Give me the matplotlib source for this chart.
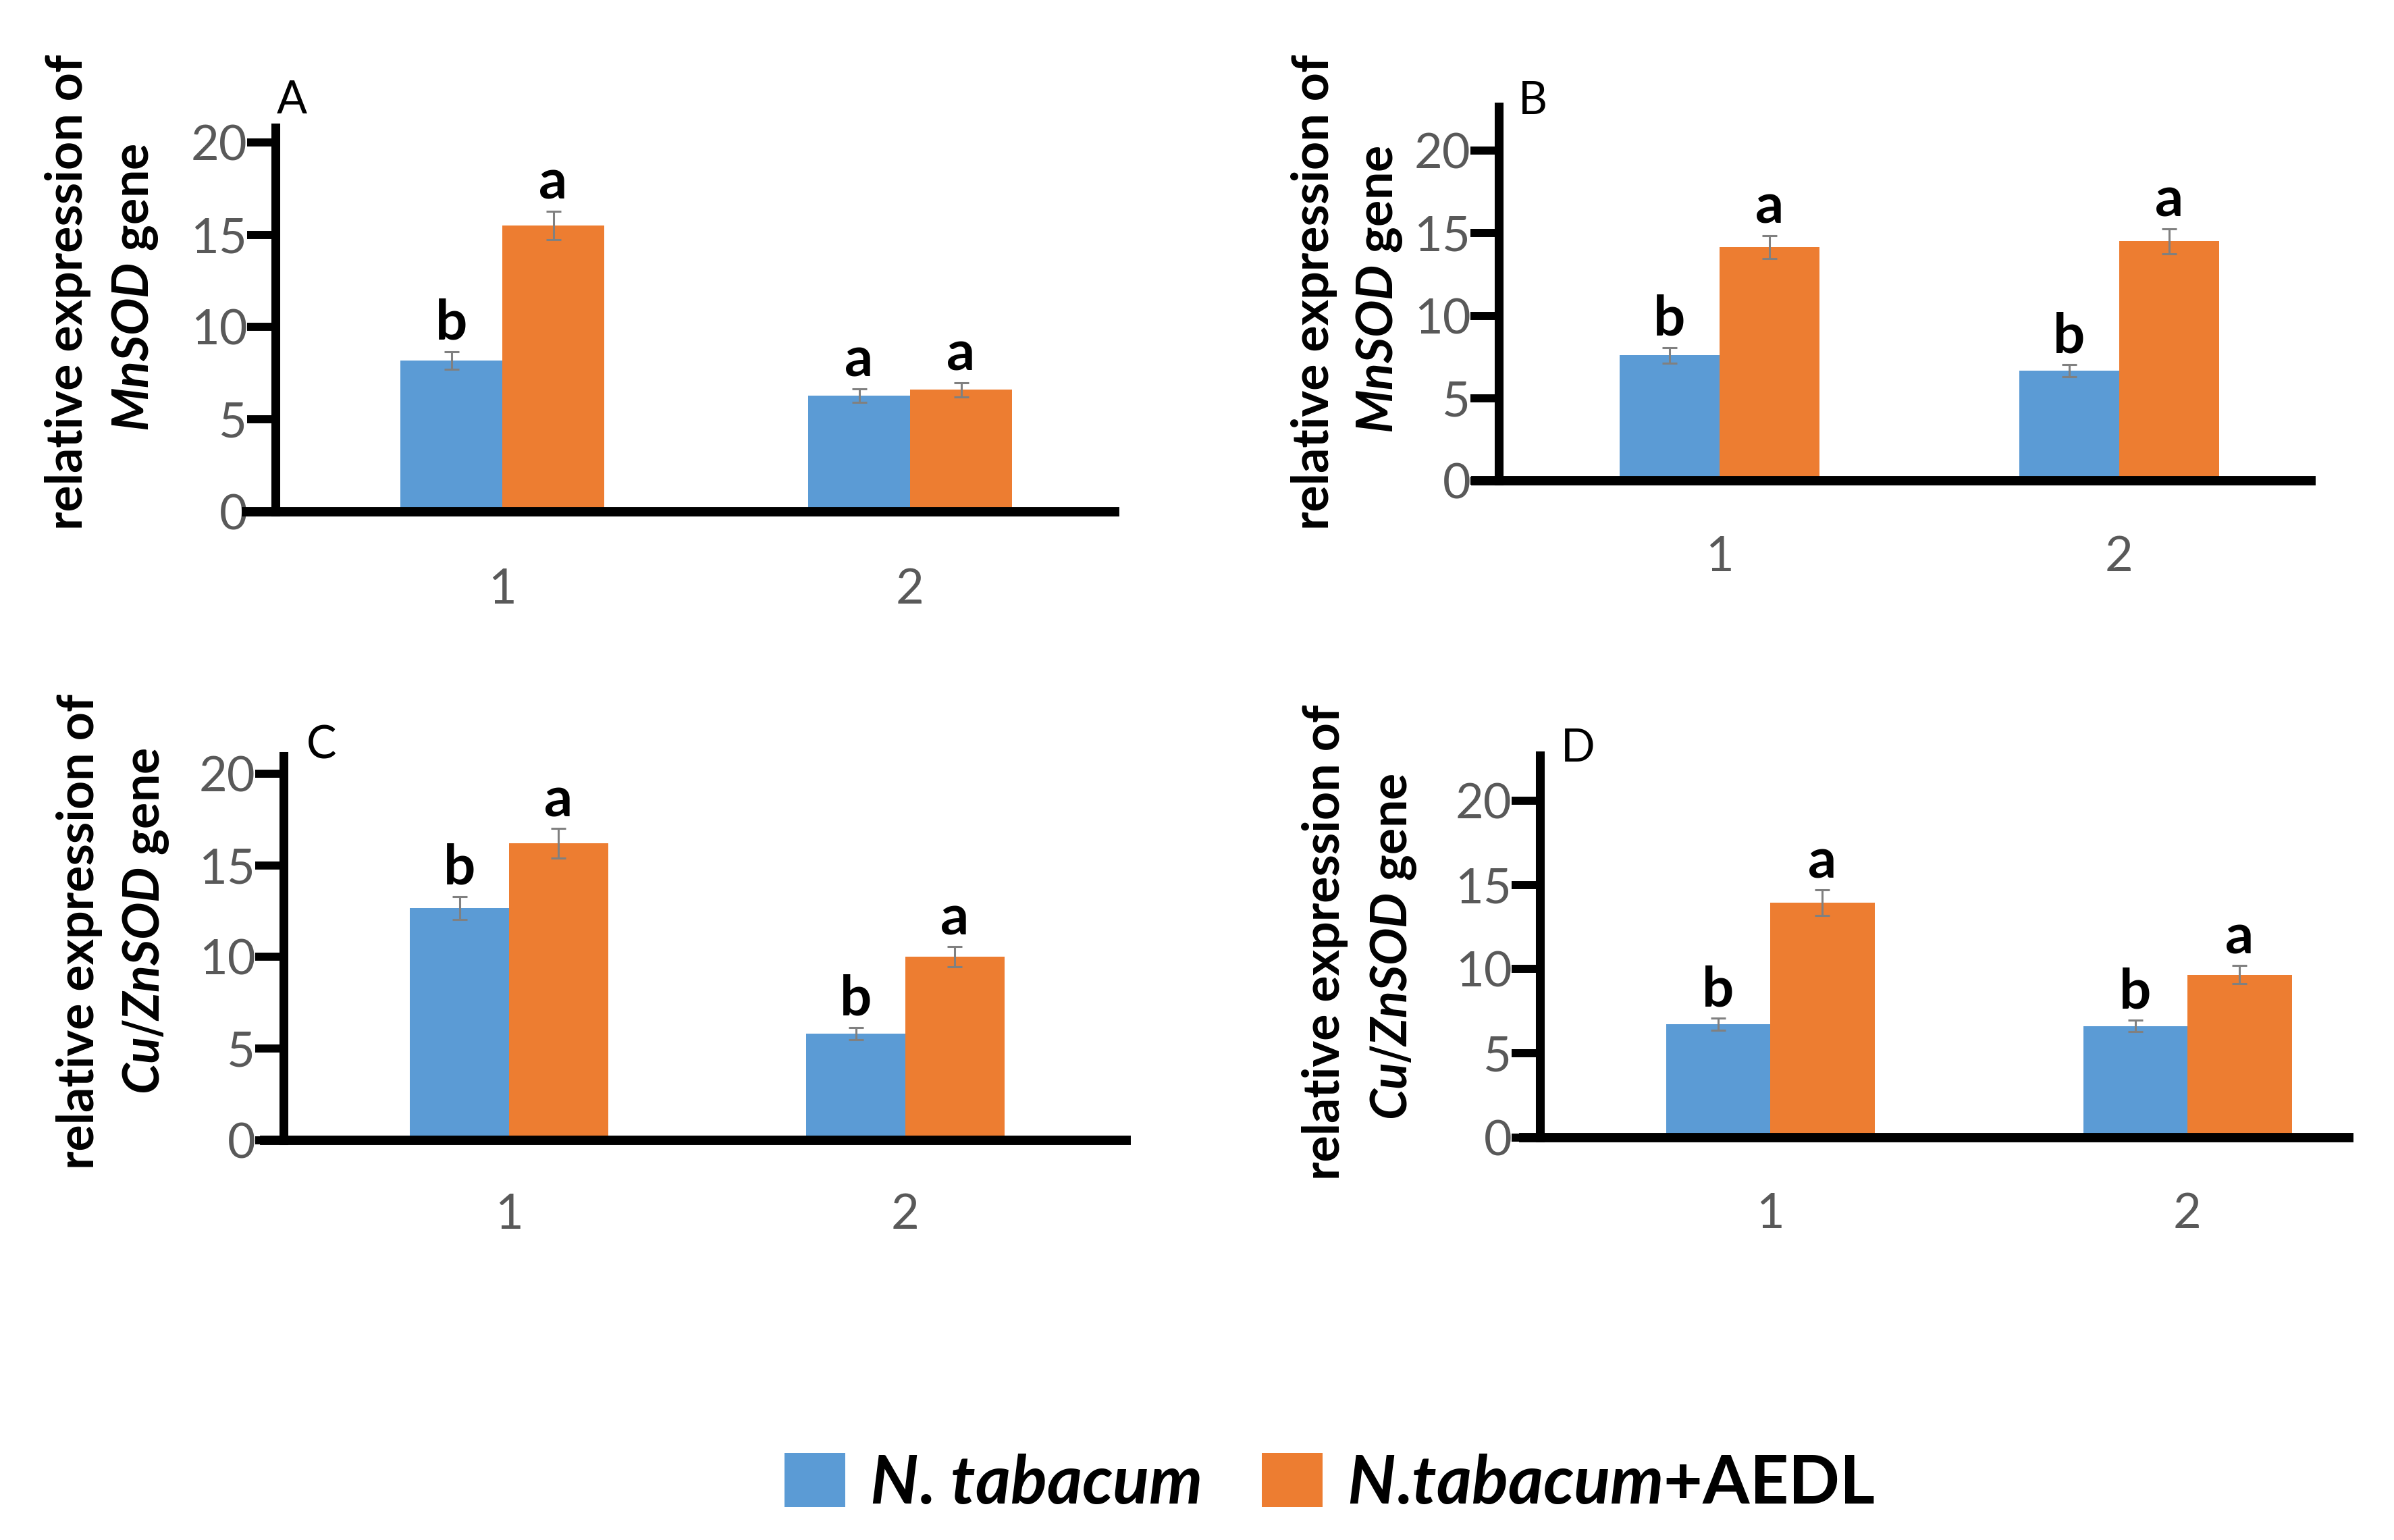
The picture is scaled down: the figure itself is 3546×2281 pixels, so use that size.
import numpy as np
import matplotlib
matplotlib.use('Agg')
import matplotlib.pyplot as plt
from matplotlib.patches import Patch

plt.rcParams['font.family'] = ['Lato', 'DejaVu Sans']
plt.rcParams['mathtext.fontset'] = 'custom'
plt.rcParams['mathtext.it'] = 'Lato:italic:bold'

# data
groups = ['1', '2']
series = ['N. tabacum', 'N.tabacum+AEDL']

a_plain = [8.2, 6.3]
a_aedl = [15.5, 6.6]
a_plain_err = [0.47, 0.37]
a_aedl_err = [0.78, 0.4]
a_plain_let = ['b', 'a']
a_aedl_let = ['a', 'a']

b_plain = [7.6, 6.67]
b_aedl = [14.15, 14.5]
b_plain_err = [0.47, 0.36]
b_aedl_err = [0.7, 0.77]
b_plain_let = ['b', 'b']
b_aedl_let = ['a', 'a']

c_plain = [12.67, 5.83]
c_aedl = [16.2, 10.0]
c_plain_err = [0.63, 0.33]
c_aedl_err = [0.8, 0.55]
c_plain_let = ['b', 'b']
c_aedl_let = ['a', 'a']

d_plain = [6.74, 6.63]
d_aedl = [13.94, 9.67]
d_plain_err = [0.35, 0.33]
d_aedl_err = [0.75, 0.54]
d_plain_let = ['b', 'b']
d_aedl_let = ['a', 'a']

yticks = [0, 5, 10, 15, 20]

W, H = 3546, 2281
BLUE = '#5B9BD5'
ORANGE = '#ED7D31'
GREY = '#595959'

fig = plt.figure(figsize=(W / 200, H / 200), dpi=200)


def px(x, y):
    return x / W, 1 - y / H


# layout of each panel in pixels: x-axis left, right, zero line, top of y axis,
# top value, group centres, y-spine x, label pad
panels = [
    dict(name='A', vals=(a_plain, a_aedl, a_plain_err, a_aedl_err, a_plain_let, a_aedl_let),
         left=365, right=1651, y0=758, ytop=189, top=20.8, c1=744, c2=1348, spine=408,
         xpad=30, gene='MnSOD', lx=(122, 220), ly=(433, 426), tag=(432, 149)),
    dict(name='B', vals=(b_plain, b_aedl, b_plain_err, b_aedl_err, b_plain_let, b_aedl_let),
         left=2186, right=3423, y0=712, ytop=158, top=22.66, c1=2547, c2=3139, spine=2220,
         xpad=29, gene='MnSOD', lx=(1968, 2063), ly=(433, 429), tag=(2270, 150)),
    dict(name='C', vals=(c_plain, c_aedl, c_plain_err, c_aedl_err, c_plain_let, c_aedl_let),
         left=392, right=1668, y0=1689, ytop=1120, top=20.95, c1=754, c2=1341, spine=420,
         xpad=28, gene='Cu/ZnSOD', lx=(139, 236), ly=(1380, 1364), tag=(476, 1104)),
    dict(name='D', vals=(d_plain, d_aedl, d_plain_err, d_aedl_err, d_plain_let, d_aedl_let),
         left=2257, right=3479, y0=1685, ytop=1119, top=22.68, c1=2622, c2=3240, spine=2281,
         xpad=29, gene='Cu/ZnSOD', lx=(1984, 2084), ly=(1396, 1402), tag=(2337, 1109)),
]

for p in panels:
    plain, aedl, plain_err, aedl_err, plain_let, aedl_let = p['vals']
    l, b = px(p['left'], p['y0'])
    w = (p['right'] - p['left']) / W
    h = (p['y0'] - p['ytop']) / H
    ax = fig.add_axes([l, b, w, h])
    unit = p['c2'] - p['c1']
    ax.set_xlim((p['left'] - p['c1']) / unit, (p['right'] - p['c1']) / unit)
    ax.set_ylim(0, p['top'])

    x = np.arange(len(groups))
    bw = 0.25
    ax.bar(x - bw / 2, plain, bw, color=BLUE, zorder=2)
    ax.bar(x + bw / 2, aedl, bw, color=ORANGE, zorder=2)
    ax.errorbar(x - bw / 2, plain, yerr=plain_err, fmt='none', ecolor='#808080',
                elinewidth=1.1, capsize=4, capthick=1.1, zorder=3)
    ax.errorbar(x + bw / 2, aedl, yerr=aedl_err, fmt='none', ecolor='#808080',
                elinewidth=1.1, capsize=4, capthick=1.1, zorder=3)

    for i in range(len(groups)):
        ax.annotate(plain_let[i], (x[i] - bw / 2, plain[i] + plain_err[i]),
                    xytext=(0, 6.5), textcoords='offset points', ha='center',
                    va='baseline', fontsize=30, fontweight='bold')
        ax.annotate(aedl_let[i], (x[i] + bw / 2, aedl[i] + aedl_err[i]),
                    xytext=(0, 6.5), textcoords='offset points', ha='center',
                    va='baseline', fontsize=30, fontweight='bold')

    ax.spines['top'].set_visible(False)
    ax.spines['right'].set_visible(False)
    ax.spines['left'].set_position(('data', (p['spine'] - p['c1']) / unit))
    ax.spines['left'].set_linewidth(4.7)
    ax.spines['bottom'].set_linewidth(5)
    ax.spines['left'].set_zorder(4)
    ax.spines['bottom'].set_zorder(4)

    ax.set_yticks(yticks)
    ax.set_xticks(x)
    ax.set_xticklabels(groups)
    ax.tick_params(axis='y', direction='out', length=15, width=4.3, color='black',
                   labelsize=26, labelcolor=GREY, pad=0)
    ax.tick_params(axis='x', length=0, labelsize=26, labelcolor=GREY, pad=p['xpad'])

    # two-line y label
    tx, ty = px(p['lx'][0], p['ly'][0])
    fig.text(tx, ty, 'relative expression of', rotation=90, rotation_mode='anchor',
             ha='center', va='baseline', fontsize=26.5, fontweight='bold')
    tx, ty = px(p['lx'][1], p['ly'][1])
    fig.text(tx, ty, r'$\mathit{' + p['gene'] + '}$ gene', rotation=90,
             rotation_mode='anchor', ha='center', va='baseline', fontsize=26.5,
             fontweight='bold')

    tx, ty = px(*p['tag'])
    fig.text(tx, ty, p['name'], ha='center', va='center', fontsize=24)

handles = [Patch(facecolor=BLUE), Patch(facecolor=ORANGE)]
labels = [r'$\mathit{N}$. $\mathit{tabacum}$', r'$\mathit{N}$.$\mathit{tabacum}$+AEDL']
lx, ly = px(1970, 2198)
leg = fig.legend(handles, labels, loc='center', bbox_to_anchor=(lx, ly), ncol=2,
                 frameon=False, handlelength=0.9, handleheight=0.85,
                 handletextpad=0.36, columnspacing=0.9,
                 prop={'weight': 'bold', 'size': 36})

fig.savefig('out.png', dpi=200, facecolor='white')
